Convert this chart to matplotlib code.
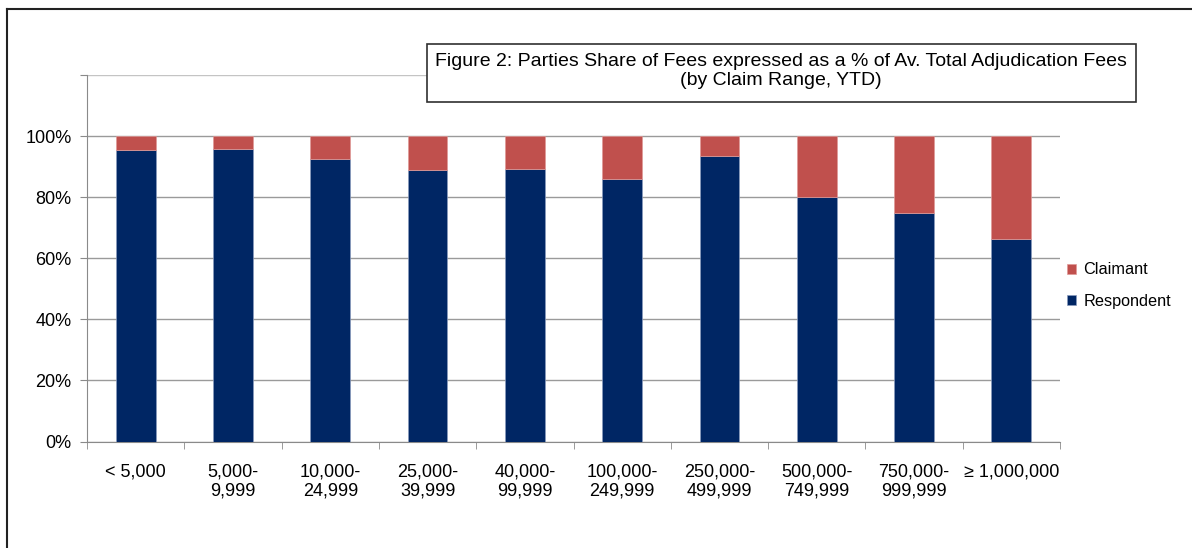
import numpy as np
import matplotlib
matplotlib.use('Agg')
import matplotlib.pyplot as plt
from matplotlib.lines import Line2D

plt.rcParams['font.family'] = ['Liberation Sans', 'DejaVu Sans']

# data
categories = ['< 5,000', '5,000-\n9,999', '10,000-\n24,999', '25,000-\n39,999',
              '40,000-\n99,999', '100,000-\n249,999', '250,000-\n499,999',
              '500,000-\n749,999', '750,000-\n999,999', '\u2265 1,000,000']
respondent = [0.955, 0.958, 0.926, 0.890, 0.893, 0.860, 0.936, 0.801, 0.748, 0.663]
claimant = [1 - r for r in respondent]
yticks = [0, 0.2, 0.4, 0.6, 0.8, 1.0, 1.2]
ytick_labels = ['0%', '20%', '40%', '60%', '80%', '100%', '']

navy = '#002664'
red = '#c0504d'

W, H = 1192, 548
fig = plt.figure(figsize=(W / 100, H / 100), dpi=100)
ax = fig.add_axes([87 / W, 1 - 441.5 / H, (1060 - 87) / W, (441.5 - 75) / H])

x = np.arange(len(categories))
bw = 0.41
ax.bar(x, respondent, bw, color=navy, edgecolor='#8a9bbd', linewidth=0.5,
       label='Respondent', zorder=3)
ax.bar(x, claimant, bw, bottom=respondent, color=red, edgecolor='#e09a98',
       linewidth=0.5, label='Claimant', zorder=3)

ax.set_xlim(-0.5, len(categories) - 0.5)
ax.set_ylim(0, 1.2)
ax.set_yticks(yticks)
ax.set_yticklabels(ytick_labels, fontsize=13)
ax.yaxis.grid(True, color='#9a9a9a', linewidth=1)
ax.get_ygridlines()[-1].set_color('#c4c4c4')
ax.set_axisbelow(True)

ax.set_xticks(x)
ax.set_xticklabels(categories, fontsize=13, linespacing=1.1)
ax.set_xticks(np.arange(len(categories) + 1) - 0.5, minor=True)
ax.tick_params(axis='x', which='major', length=0, pad=16)
ax.tick_params(axis='x', which='minor', length=5, color='#8a8a8a')
ax.tick_params(axis='y', length=5, color='#8a8a8a', pad=6)

for s in ['top', 'right']:
    ax.spines[s].set_visible(False)
for s in ['left', 'bottom']:
    ax.spines[s].set_color('#8a8a8a')

h, l = ax.get_legend_handles_labels()
fig.legend(h[::-1], l[::-1], loc='upper left', bbox_to_anchor=(1060 / W, 1 - 256 / H),
           frameon=False, fontsize=11.7, handlelength=0.6, handleheight=0.6,
           handletextpad=0.45, labelspacing=1.0, borderaxespad=0)

# title box
rect = plt.Rectangle((427 / W, 1 - 102 / H), (1136 - 427) / W, (102 - 44) / H,
                     transform=fig.transFigure, facecolor='white', edgecolor='#303030',
                     linewidth=1.2, zorder=9)
fig.patches.append(rect)
fig.text(781 / W, 1 - 71 / H,
         'Figure 2: Parties Share of Fees expressed as a % of Av. Total Adjudication Fees\n(by Claim Range, YTD)',
         ha='center', va='center', fontsize=14, linespacing=1.15, zorder=10)

# outer chart border
fig.add_artist(Line2D([7 / W, 7 / W], [0, 1 - 9 / H], color='#222222', linewidth=1.5))
fig.add_artist(Line2D([7 / W, 1], [1 - 9 / H, 1 - 9 / H], color='#222222', linewidth=1.5))

fig.savefig('out.png', dpi=100)
